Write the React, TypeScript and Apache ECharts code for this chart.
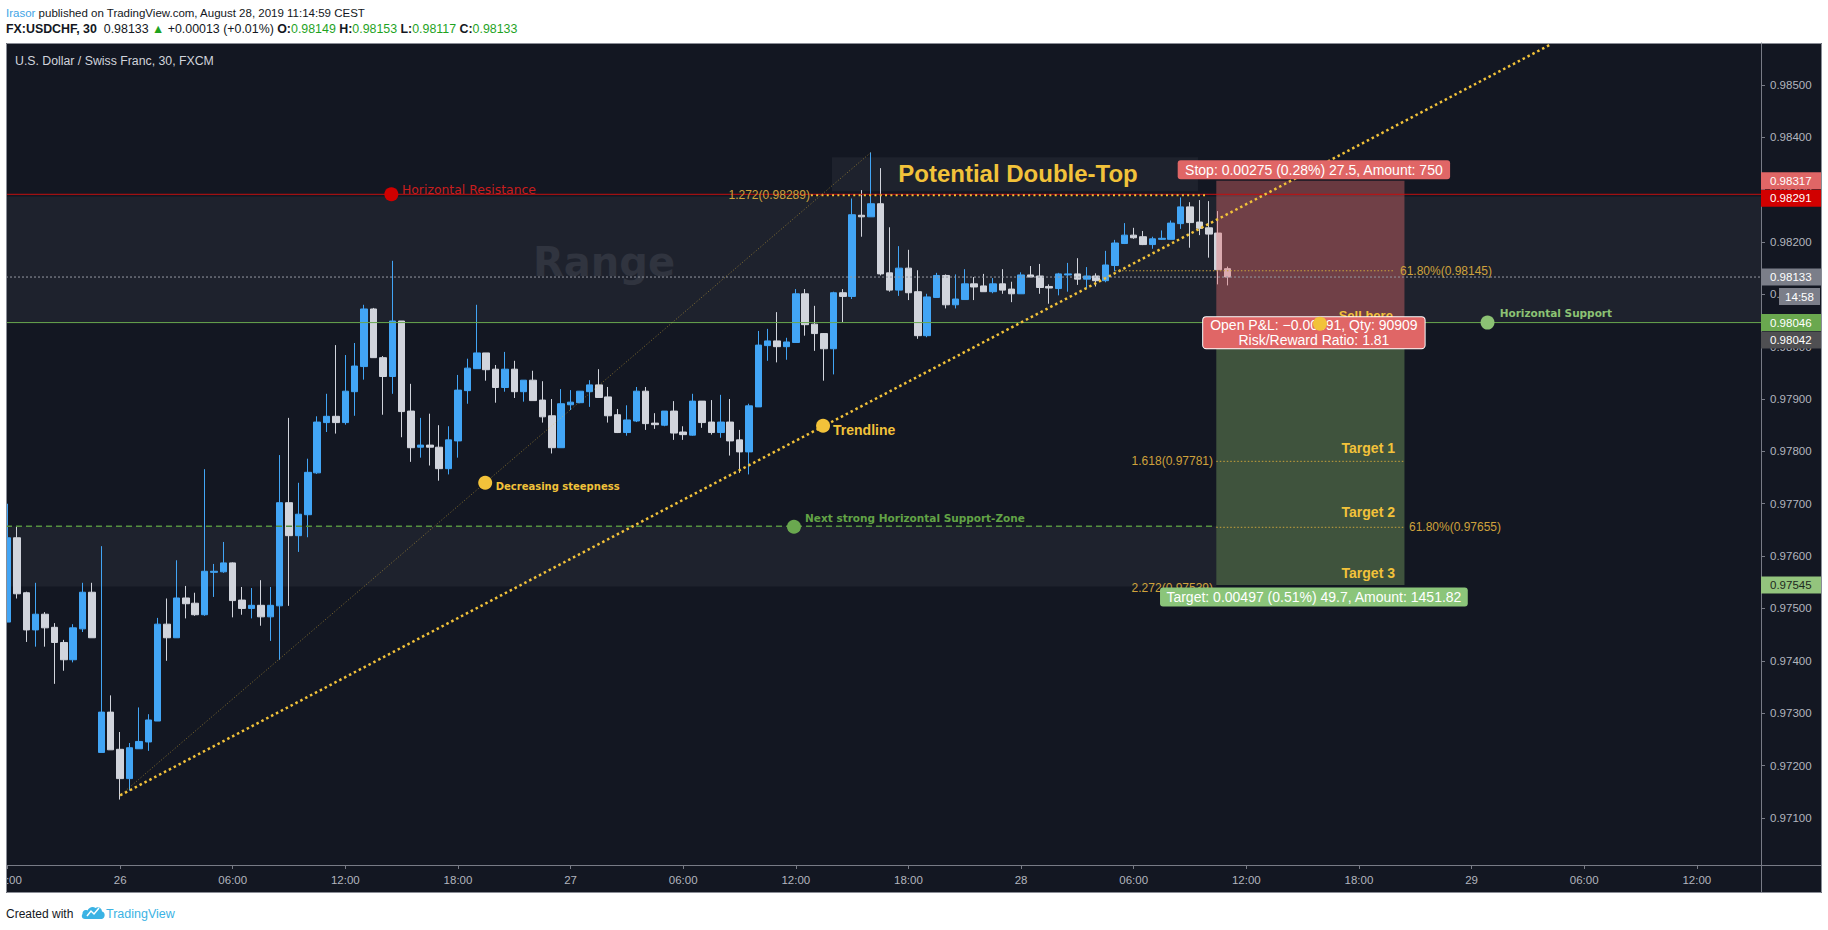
import React, { useEffect, useRef } from "react";
import * as echarts from "echarts";

// ---------- axis ticks ----------
const timeTickLabels = ["18:00", "26", "06:00", "12:00", "18:00", "27", "06:00", "12:00", "18:00", "28", "06:00", "12:00", "18:00", "29", "06:00", "12:00"];
const barsPerTimeTick = 12;
const priceTickValues = [0.971, 0.972, 0.973, 0.974, 0.975, 0.976, 0.977, 0.978, 0.979, 0.98, 0.981, 0.982, 0.983, 0.984, 0.985];

// ---------- candles (30 min bars, index 0 = 25 Aug 18:00) ----------
const opens = [
  0.97474, 0.97635, 0.9753, 0.97459, 0.97489, 0.97464, 0.97435, 0.97402, 0.97461, 0.97531,
  0.97225, 0.97302, 0.97231, 0.97175, 0.97232, 0.97245, 0.97285, 0.9747, 0.97444, 0.9752,
  0.9751, 0.97488, 0.97569, 0.9757, 0.97587, 0.97516, 0.975, 0.97506, 0.97484, 0.97505,
  0.97702, 0.97639, 0.97679, 0.97759, 0.97855, 0.97867, 0.97855, 0.97914, 0.97962, 0.98072,
  0.97979, 0.97943, 0.98049, 0.97877, 0.97808, 0.97812, 0.97808, 0.97767, 0.9782, 0.97916,
  0.97958, 0.97988, 0.97957, 0.97922, 0.97957, 0.97914, 0.97936, 0.97898, 0.97868, 0.97807,
  0.97889, 0.97893, 0.97914, 0.97927, 0.97904, 0.9787, 0.97836, 0.97858, 0.97915, 0.97854,
  0.9785, 0.97877, 0.97837, 0.97831, 0.97896, 0.97856, 0.97836, 0.97856, 0.97822, 0.97799,
  0.97885, 0.98002, 0.98011, 0.98, 0.98008, 0.98101, 0.98043, 0.98025, 0.97996, 0.98103,
  0.98096, 0.98251, 0.98248, 0.98273, 0.98141, 0.98108, 0.9815, 0.98105, 0.98021, 0.98094,
  0.98136, 0.9808, 0.9809, 0.9812, 0.98116, 0.98105, 0.9812, 0.9811, 0.98101, 0.98137,
  0.98135, 0.98115, 0.98111, 0.98137, 0.98139, 0.98129, 0.98135, 0.98126, 0.98155, 0.98197,
  0.98213, 0.9821, 0.98195, 0.98205, 0.98205, 0.98235, 0.98267, 0.98238, 0.98227, 0.98217,
  0.98149,
];
const closes = [
  0.97635, 0.97528, 0.97459, 0.97489, 0.97463, 0.97435, 0.97402, 0.97463, 0.97531, 0.97444,
  0.97302, 0.9723, 0.97175, 0.97234, 0.97246, 0.97287, 0.9747, 0.97444, 0.9752, 0.97509,
  0.97488, 0.97571, 0.97571, 0.97587, 0.97515, 0.975, 0.97506, 0.97484, 0.97506, 0.97702,
  0.97639, 0.9768, 0.9776, 0.97856, 0.97867, 0.97855, 0.97915, 0.97963, 0.98072, 0.97979,
  0.97943, 0.98049, 0.97876, 0.97807, 0.97812, 0.97808, 0.97767, 0.97822, 0.97917, 0.97959,
  0.97988, 0.97956, 0.97922, 0.97957, 0.97914, 0.97936, 0.97897, 0.97866, 0.97807, 0.97891,
  0.97894, 0.97915, 0.97927, 0.97903, 0.97868, 0.97836, 0.9786, 0.97915, 0.97853, 0.97851,
  0.97877, 0.97835, 0.97832, 0.97896, 0.97855, 0.97836, 0.97856, 0.9782, 0.97799, 0.97887,
  0.98003, 0.98011, 0.98, 0.98009, 0.98101, 0.98042, 0.98025, 0.97996, 0.98103, 0.98096,
  0.98252, 0.98248, 0.98273, 0.98139, 0.98108, 0.9815, 0.98103, 0.98021, 0.98095, 0.98136,
  0.9808, 0.98091, 0.9812, 0.98114, 0.98105, 0.9812, 0.98108, 0.98101, 0.98137, 0.98133,
  0.98113, 0.98112, 0.98139, 0.98139, 0.98129, 0.98135, 0.98126, 0.98156, 0.98198, 0.98213,
  0.98208, 0.98195, 0.98206, 0.98207, 0.98236, 0.98267, 0.98237, 0.98226, 0.98215, 0.98147,
  0.98133,
];
const lows = [
  0.97474, 0.97519, 0.97436, 0.97427, 0.97427, 0.97356, 0.97381, 0.97397, 0.97455, 0.97444,
  0.97225, 0.9723, 0.97135, 0.97152, 0.97232, 0.97228, 0.97285, 0.974, 0.97444, 0.97481,
  0.97486, 0.97486, 0.97522, 0.97568, 0.97483, 0.97488, 0.97481, 0.97467, 0.97438, 0.97402,
  0.97505, 0.97608, 0.97636, 0.97757, 0.97837, 0.97834, 0.97851, 0.97868, 0.97937, 0.97979,
  0.9787, 0.9791, 0.97827, 0.9778, 0.97788, 0.97773, 0.97744, 0.97756, 0.97788, 0.97891,
  0.97958, 0.97935, 0.97893, 0.97914, 0.97902, 0.97895, 0.97897, 0.97855, 0.97796, 0.97807,
  0.97879, 0.97892, 0.97885, 0.97903, 0.97855, 0.97835, 0.9783, 0.97856, 0.97841, 0.97843,
  0.97848, 0.97822, 0.97822, 0.9783, 0.97845, 0.97832, 0.97826, 0.97792, 0.97759, 0.97756,
  0.97885, 0.97973, 0.9797, 0.97975, 0.98008, 0.98021, 0.97992, 0.97935, 0.97947, 0.98047,
  0.98091, 0.9821, 0.98248, 0.98136, 0.98105, 0.98097, 0.98089, 0.98015, 0.98018, 0.98094,
  0.98073, 0.98073, 0.9809, 0.98089, 0.98105, 0.98102, 0.98101, 0.98085, 0.98101, 0.98133,
  0.98101, 0.98082, 0.98098, 0.98105, 0.98118, 0.98111, 0.98115, 0.98123, 0.98144, 0.98196,
  0.98206, 0.98194, 0.98187, 0.98204, 0.98205, 0.98225, 0.98189, 0.98213, 0.9817, 0.98119,
  0.98117,
];
const highs = [
  0.977, 0.97657, 0.97532, 0.97549, 0.97493, 0.97472, 0.9744, 0.9747, 0.97549, 0.97549,
  0.97619, 0.97334, 0.97264, 0.97243, 0.97311, 0.97298, 0.97482, 0.97519, 0.97592, 0.97543,
  0.9753, 0.97766, 0.97585, 0.97627, 0.97588, 0.97541, 0.97539, 0.97554, 0.97541, 0.97793,
  0.97864, 0.9774, 0.97786, 0.97867, 0.9791, 0.98003, 0.97984, 0.98007, 0.9808, 0.98074,
  0.97982, 0.98164, 0.98049, 0.97929, 0.97864, 0.97872, 0.9785, 0.97848, 0.97946, 0.97977,
  0.9808, 0.97988, 0.97965, 0.9799, 0.97973, 0.97936, 0.97954, 0.97934, 0.979, 0.97919,
  0.97917, 0.97915, 0.97936, 0.97957, 0.97923, 0.97881, 0.97888, 0.97923, 0.97923, 0.97873,
  0.97877, 0.97896, 0.97848, 0.9791, 0.97896, 0.97898, 0.97908, 0.979, 0.97841, 0.97891,
  0.9803, 0.98034, 0.98066, 0.98017, 0.9811, 0.9811, 0.98078, 0.98026, 0.98105, 0.9811,
  0.98283, 0.98299, 0.98371, 0.98341, 0.98228, 0.98192, 0.98185, 0.98146, 0.98101, 0.98141,
  0.98138, 0.98138, 0.98148, 0.98133, 0.98139, 0.98131, 0.98148, 0.98124, 0.98142, 0.98154,
  0.98158, 0.98119, 0.98141, 0.9816, 0.98169, 0.98152, 0.9814, 0.98183, 0.98204, 0.98236,
  0.98227, 0.98221, 0.9821, 0.98222, 0.98241, 0.98285, 0.98276, 0.9828, 0.98278, 0.98259,
  0.98153,
];

// ---------- drawings (bar index, price) ----------
const resistanceLevel = 0.98291;
const supportLevel = 0.98046;
const lastPrice = 0.98133;
const rangeTop = 0.98287;
const supportZoneTop = 0.97657;
const supportZoneBottom = 0.97542;
const entryPrice = 0.98042;
const stopPrice = 0.98317;
const targetPrice = 0.97545;
const positionStart = 128.8;
const positionEnd = 148.85;
const positionLabelX = 139.2;
const doubleTopBox = [87.85, 0.98362, 126.85, 0.98297];
const trendlinePoints = [[12, 0.97143], [164.3, 0.98576]];
const steepLinePoints = [[12, 0.97143], [92, 0.98371]];

const fibLevels = [0.98289, 0.98145, 0.97781, 0.97655];
const fibStarts = [85.6, 118, 128.8, 128.8];
const fibEnds = [127.6, 147.7, 148.85, 148.85];
const fibLabelTexts = ["1.272(0.98289)", "61.80%(0.98145)", "1.618(0.97781)", "61.80%(0.97655)", "2.272(0.97539)"];
const fibLabelX = [85.5, 148.37, 128.45, 149.33, 128.45];
const fibLabelY = [0.98289, 0.98145, 0.97781, 0.97655, 0.97539];

const noteDotX = [40.9, 50.9, 86.9, 83.8, 157.7, 139.85];
const noteDotY = [0.98291, 0.9774, 0.97849, 0.97656, 0.98046, 0.98044];
const noteTexts = ["Horizontal Resistance", "Decreasing steepness", "Trendline", "Next strong Horizontal Support-Zone", "Horizontal Support", "Sell here", "Target 1", "Target 2", "Target 3", "Potential Double-Top"];
const noteTextX = [42.03, 52.02, 87.96, 84.98, 158.99, 141.84, 147.84, 147.84, 147.84, 107.67];
const noteTextY = [0.98301, 0.97733, 0.9784, 0.97673, 0.98064, 0.98059, 0.97806, 0.97685, 0.97567, 0.98331];
const rangeLabel = "Range";
const rangeLabelPos = [63.56, 0.98162];

const positionTexts = [
  "Stop: 0.00275 (0.28%) 27.5, Amount: 750",
  "Target: 0.00497 (0.51%) 49.7, Amount: 1451.82",
  "Open P&L: \u22120.00091, Qty: 90909\nRisk/Reward Ratio: 1.81",
];

const tagPrices = [0.98317, 0.98291, 0.98133, 0.98046, 0.98042, 0.97545];
const countdownText = "14:58";

const FF = '"Liberation Sans", Arial, Helvetica, sans-serif';
const DV = '"DejaVu Sans", Verdana, sans-serif';
const YELLOW = "#f2c23a";

export default function App() {
  const ref = useRef<HTMLDivElement>(null);

  useEffect(() => {
    const el = ref.current;
    if (!el) return;
    const chart = echarts.init(el, undefined, { renderer: "svg" });

    const xMin = -0.16;
    const xMax = 186.84;
    const timeTickIdx = timeTickLabels.map((_, k) => k * barsPerTimeTick);
    const candleData = opens.map((o, i) => [i, o, closes[i], lows[i], highs[i]]);

    const rectRender = (fills: string[]) => (params: any, api: any) => {
      const a = api.coord([api.value(0), api.value(1)]);
      const b = api.coord([api.value(2), api.value(3)]);
      const cs = params.coordSys;
      const shape = echarts.graphic.clipRectByRect(
        { x: Math.min(a[0], b[0]), y: Math.min(a[1], b[1]), width: Math.abs(b[0] - a[0]), height: Math.abs(b[1] - a[1]) },
        { x: cs.x, y: cs.y, width: cs.width, height: cs.height }
      );
      if (!shape) return { type: "group", children: [] };
      return { type: "rect", shape, style: { fill: fills[params.dataIndex] } };
    };

    const noteStyles = [
      { color: "#c81e1e", font: `12.4px ${DV}`, align: "left" },
      { color: YELLOW, font: `bold 10px ${DV}`, align: "left" },
      { color: YELLOW, font: `bold 14px ${FF}`, align: "left" },
      { color: "#62a346", font: `bold 10.5px ${DV}`, align: "left" },
      { color: "#8cc274", font: `bold 10.5px ${DV}`, align: "left" },
      { color: YELLOW, font: `bold 13px ${FF}`, align: "left" },
      { color: YELLOW, font: `bold 14px ${FF}`, align: "right" },
      { color: YELLOW, font: `bold 14px ${FF}`, align: "right" },
      { color: YELLOW, font: `bold 14px ${FF}`, align: "right" },
      { color: YELLOW, font: `bold 24px ${FF}`, align: "center" },
    ];
    const dotColors = ["#d10000", YELLOW, YELLOW, "#6aa84f", "#8cc274", YELLOW];
    const fibAlign = ["right", "left", "right", "left", "right"];

    const lineSeries = (data: number[][], color: string, width: number, type: any, z = 5) => ({
      type: "line",
      data,
      symbol: "none",
      silent: true,
      z,
      lineStyle: { color, width, type },
    });

    const series: any[] = [
      {
        type: "custom",
        z: 1,
        silent: true,
        data: [
          [xMin, rangeTop, xMax, supportLevel],
          [xMin, supportZoneTop, positionStart, supportZoneBottom],
          doubleTopBox,
        ],
        encode: { x: [0, 2], y: [1, 3] },
        renderItem: rectRender(["#1e222d", "#1e222d", "#1e222d"]),
      },
      {
        type: "custom",
        z: 2,
        silent: true,
        data: [rangeLabelPos],
        encode: { x: 0, y: 1 },
        renderItem: (params: any, api: any) => {
          const p = api.coord([api.value(0), api.value(1)]);
          return { type: "text", x: p[0], y: p[1], style: { text: rangeLabel, fill: "#30343f", font: `bold 40px ${DV}`, align: "center", verticalAlign: "middle" } };
        },
      },
      {
        type: "candlestick",
        z: 3,
        barWidth: 7,
        data: candleData,
        itemStyle: { color: "#42a5f5", color0: "#d1d4dc", borderColor: "#42a5f5", borderColor0: "#d1d4dc", borderWidth: 1 },
      },
      {
        type: "custom",
        z: 4,
        silent: true,
        data: [
          [positionStart, stopPrice, positionEnd, entryPrice],
          [positionStart, entryPrice, positionEnd, targetPrice],
        ],
        encode: { x: [0, 2], y: [1, 3] },
        renderItem: rectRender(["rgba(235,110,110,0.40)", "rgba(140,190,110,0.36)"]),
      },
      lineSeries([[xMin, resistanceLevel], [xMax, resistanceLevel]], "#c40f0f", 1, "solid"),
      lineSeries([[xMin, supportLevel], [xMax, supportLevel]], "#6aa84f", 1, "solid"),
      lineSeries([[xMin, lastPrice], [xMax, lastPrice]], "#9598a1", 1, [2, 2]),
      lineSeries([[xMin, supportZoneTop], [positionStart, supportZoneTop]], "#55913f", 1.5, [6, 4]),
      lineSeries(trendlinePoints, YELLOW, 2.5, [2.5, 3]),
      lineSeries(steepLinePoints, "rgba(240,194,59,0.5)", 1, [1, 2]),
      ...fibLevels.map((lv, k) =>
        lineSeries([[fibStarts[k], lv], [fibEnds[k], lv]], k === 0 ? YELLOW : "#c9a23c", k === 0 ? 2 : 1, k === 0 ? [2, 3.3] : [1.5, 2])
      ),
      {
        type: "custom",
        z: 6,
        silent: true,
        data: fibLabelX.map((x, k) => [x, fibLabelY[k]]),
        encode: { x: 0, y: 1 },
        renderItem: (params: any, api: any) => {
          const p = api.coord([api.value(0), api.value(1)]);
          const k = params.dataIndex;
          return { type: "text", x: p[0], y: p[1], style: { text: fibLabelTexts[k], fill: "#cfa23c", font: `12px ${FF}`, align: fibAlign[k], verticalAlign: "middle" } };
        },
      },
      {
        type: "custom",
        z: 6,
        silent: true,
        data: noteTextX.map((x, k) => [x, noteTextY[k]]),
        encode: { x: 0, y: 1 },
        renderItem: (params: any, api: any) => {
          const p = api.coord([api.value(0), api.value(1)]);
          const s = noteStyles[params.dataIndex];
          return { type: "text", x: p[0], y: p[1], style: { text: noteTexts[params.dataIndex], fill: s.color, font: s.font, align: s.align, verticalAlign: "middle" } };
        },
      },
      {
        type: "custom",
        z: 7,
        silent: true,
        data: [
          [positionLabelX, stopPrice],
          [positionLabelX, targetPrice],
          [positionLabelX, entryPrice],
        ],
        encode: { x: 0, y: 1 },
        renderItem: (params: any, api: any) => {
          const p = api.coord([api.value(0), api.value(1)]);
          const k = params.dataIndex;
          const base = { text: positionTexts[k], fill: "#ffffff", font: `14px ${FF}`, align: "center", borderRadius: 3, lineHeight: 15 };
          if (k === 0)
            return { type: "text", x: p[0], y: p[1] - 1.5, style: { ...base, verticalAlign: "bottom", backgroundColor: "#e06666", padding: [2, 7, 2, 7] } };
          if (k === 1)
            return { type: "text", x: p[0], y: p[1] + 2.5, style: { ...base, verticalAlign: "top", backgroundColor: "#8bc57a", padding: [2, 6, 2, 6] } };
          return { type: "text", x: p[0], y: p[1] + 8, style: { ...base, verticalAlign: "middle", lineHeight: 14.5, backgroundColor: "#e06666", borderColor: "#ffffff", borderWidth: 1, padding: [1, 7, 1, 7] } };
        },
      },
      {
        type: "custom",
        z: 8,
        silent: true,
        data: noteDotX.map((x, k) => [x, noteDotY[k]]),
        encode: { x: 0, y: 1 },
        renderItem: (params: any, api: any) => {
          const p = api.coord([api.value(0), api.value(1)]);
          return { type: "circle", shape: { cx: p[0], cy: p[1], r: 7 }, style: { fill: dotColors[params.dataIndex] } };
        },
      },
    ];

    chart.setOption({
      animation: false,
      backgroundColor: "#ffffff",
      grid: { left: 6, right: 67, top: 43, bottom: 65, containLabel: false, outerBoundsMode: "none" },
      xAxis: {
        type: "value",
        min: xMin,
        max: xMax,
        axisLine: { show: true, onZero: false, lineStyle: { color: "#787b86" } },
        axisTick: { show: true, customValues: timeTickIdx, length: 4, lineStyle: { color: "#787b86" } },
        axisLabel: {
          customValues: timeTickIdx,
          formatter: (v: number) => timeTickLabels[Math.round(v / barsPerTimeTick)] ?? "",
          color: "#b2b5be",
          fontSize: 11.5,
          fontFamily: FF,
          margin: 9,
        },
        splitLine: { show: false },
      },
      yAxis: {
        type: "value",
        position: "right",
        min: 0.9701,
        max: 0.9858,
        axisLine: { show: true, onZero: false, lineStyle: { color: "#787b86" } },
        axisTick: { show: true, customValues: priceTickValues, length: 4, lineStyle: { color: "#787b86" } },
        axisLabel: {
          customValues: priceTickValues,
          formatter: (v: number) => v.toFixed(5),
          color: "#b2b5be",
          fontSize: 11.5,
          fontFamily: FF,
          margin: 9,
        },
        splitLine: { show: false },
      },
      series,
    });

    // price tags on the axis, placed through the chart's own scale
    const toPx = (p: number) => chart.convertToPixel({ xAxisIndex: 0, yAxisIndex: 0 }, [xMax, p]) as number[];
    const tagColors = ["#e06666", "#d10000", "#7b7e89", "#6aa84f", "#4f4f52", "#93c47d"];
    const tagText = ["#ffffff", "#ffffff", "#ffffff", "#ffffff", "#ffffff", "#1d2a1d"];
    const ys = tagPrices.map((p) => toPx(p)[1]);
    for (let k = 1; k < ys.length; k++) if (ys[k] < ys[k - 1] + 17.5) ys[k] = ys[k - 1] + 17.5;
    const axisX = toPx(tagPrices[0])[0];
    const tagEls: any[] = [];
    tagPrices.forEach((p, k) => {
      tagEls.push({ type: "rect", z: 100, shape: { x: axisX, y: ys[k] - 8.5, width: 61, height: 17 }, style: { fill: tagColors[k] } });
      tagEls.push({ type: "text", z: 101, x: axisX + 9, y: ys[k], style: { text: p.toFixed(5), fill: tagText[k], font: `11.5px ${FF}`, verticalAlign: "middle" } });
    });
    const lastIdx = tagPrices.indexOf(lastPrice);
    tagEls.push({ type: "rect", z: 100, shape: { x: axisX + 18, y: ys[lastIdx] + 11, width: 41, height: 17 }, style: { fill: "#7b7e89" } });
    tagEls.push({ type: "text", z: 101, x: axisX + 38.5, y: ys[lastIdx] + 19.5, style: { text: countdownText, fill: "#ffffff", font: `11.5px ${FF}`, align: "center", verticalAlign: "middle" } });

    echarts.graphic.registerShape(
      "tvlogo",
      echarts.graphic.extendPath(
        "M4 16 C1 16 0 13 1.5 11 C1 8 4 6 6.5 7.5 C8 4 12 3 14.5 5 C17 3 21 5 21 8.5 C23.5 9 24.5 12 23 14.5 C22 16 21 16 20 16 Z",
        {}
      )
    );

    const frame: any[] = [
      { type: "rect", z: -10, shape: { x: 6, y: 43, width: 1816, height: 850 }, style: { fill: "#131722" } },
      { type: "rect", z: 100, shape: { x: 0, y: 43, width: 6, height: 851 }, style: { fill: "#ffffff" } },
      { type: "line", z: 102, shape: { x1: 6, y1: 865.5, x2: 1822, y2: 865.5 }, style: { stroke: "#787b86", lineWidth: 1 } },
      { type: "line", z: 102, shape: { x1: 1761.5, y1: 865, x2: 1761.5, y2: 893 }, style: { stroke: "#787b86", lineWidth: 1 } },
      { type: "rect", z: 102, shape: { x: 6.5, y: 43.5, width: 1815, height: 849 }, style: { fill: "none", stroke: "#8a8d96", lineWidth: 1 } },
      {
        type: "text", z: 102, x: 15, y: 61,
        style: { text: "U.S. Dollar / Swiss Franc, 30, FXCM", fill: "#d1d4dc", font: `12.3px ${FF}`, verticalAlign: "middle" },
      },
      {
        type: "text", z: 102, x: 6, y: 13,
        style: {
          text: "{u|Irasor} published on TradingView.com, August 28, 2019 11:14:59 CEST",
          fill: "#131722", font: `11.5px ${FF}`, verticalAlign: "middle",
          rich: { u: { fill: "#3ea4e6", fontSize: 11.5, fontFamily: FF } },
        },
      },
      {
        type: "text", z: 102, x: 6, y: 29,
        style: {
          text: "{b|FX:USDCHF, 30}  0.98133 {g|\u25B2} +0.00013 (+0.01%) {b|O:}{g|0.98149} {b|H:}{g|0.98153} {b|L:}{g|0.98117} {b|C:}{g|0.98133}",
          fill: "#131722", font: `12.4px ${FF}`, verticalAlign: "middle",
          rich: {
            b: { fontWeight: "bold", fontSize: 12.4, fontFamily: FF, fill: "#131722" },
            g: { fill: "#1fa31f", fontSize: 12.4, fontFamily: FF },
          },
        },
      },
      { type: "text", z: 102, x: 6, y: 914, style: { text: "Created with", fill: "#131722", font: `12px ${FF}`, verticalAlign: "middle" } },
      { type: "tvlogo", z: 102, x: 81, y: 903, scaleX: 1, scaleY: 1, style: { fill: "#3bb3e4" } },
      { type: "polyline", z: 103, shape: { points: [[87, 916], [91, 911], [94, 914], [99, 908]] }, style: { stroke: "#ffffff", lineWidth: 1.5, fill: "none" } },
      { type: "text", z: 102, x: 106, y: 914, style: { text: "TradingView", fill: "#3bb3e4", font: `12.5px ${FF}`, verticalAlign: "middle" } },
    ];

    chart.setOption({ graphic: { elements: [...frame, ...tagEls] } });

    return () => chart.dispose();
  }, []);

  return <div ref={ref} style={{ position: "fixed", left: 0, top: 0, width: 1828, height: 930, background: "#ffffff" }} />;
}
